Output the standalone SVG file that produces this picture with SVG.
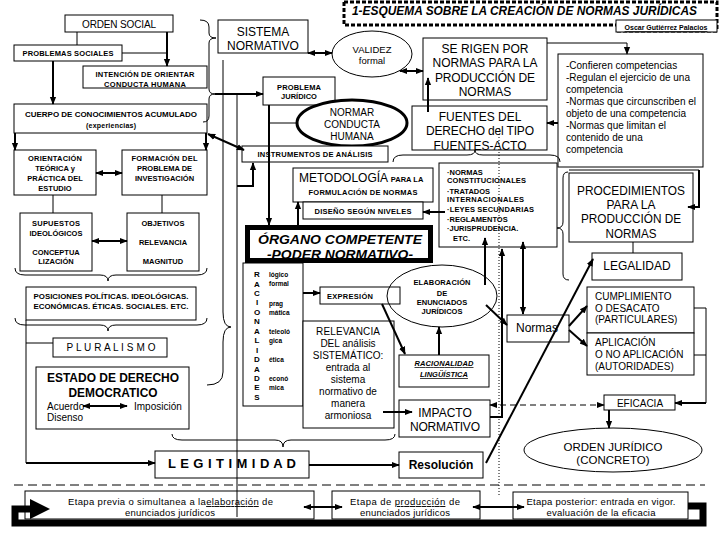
<svg xmlns="http://www.w3.org/2000/svg" width="720" height="540" viewBox="0 0 720 540">
<defs>
<style>
text{font-family:"Liberation Sans",Arial,sans-serif;fill:#000}
.b{font-weight:bold}
.i{font-style:italic}
.m{text-anchor:middle}
.bx{fill:#fff;stroke:#000;stroke-width:1}
.ln{fill:none;stroke:#000;stroke-width:1}
.w2{stroke-width:2}
.ar{marker-end:url(#ah)}
.da{marker-start:url(#ah);marker-end:url(#ah)}
.s7{font-size:7px}.s75{font-size:7.5px}.s8{font-size:8px}.s10{font-size:10px}.s12{font-size:12px}.s13{font-size:13px}
</style>
<marker id="ah" viewBox="0 0 10 10" refX="9" refY="5" markerWidth="8" markerHeight="8" markerUnits="userSpaceOnUse" orient="auto-start-reverse"><path d="M0,1 L10,5 L0,9 Z" fill="#000"/></marker>
</defs>
<rect width="720" height="540" fill="#fff"/>

<g id="title">
<path d="M344,2 H717 V31 H616 M344,2 V25 H616" fill="none" stroke="#000" stroke-width="3" stroke-dasharray="4 2"/>
<rect x="616" y="20" width="101" height="12" fill="#fff" stroke="#000"/>
<text x="352" y="15" class="b i" font-size="12" textLength="345" lengthAdjust="spacingAndGlyphs">1-ESQUEMA SOBRE LA CREACIÓN DE NORMAS JURÍDICAS</text>
<text x="666" y="30" class="m b" font-size="7" text-decoration="underline">Oscar Gutiérrez Palacios</text>
</g>

<g id="orden-social"><rect class="bx" x="65" y="15" width="108" height="17"/><text class="m s10" x="119" y="27.5" textLength="74">ORDEN SOCIAL</text></g>
<g id="problemas-sociales"><rect class="bx" x="14" y="45" width="108" height="16"/><text class="m b s75" x="68" y="56" textLength="91">PROBLEMAS SOCIALES</text></g>
<g id="intencion"><rect class="bx" x="83" y="66" width="124" height="22"/><text class="m b s75" x="145" y="77" textLength="99">INTENCIÓN DE ORIENTAR</text><text class="m b s75" x="145" y="86.5" textLength="82">CONDUCTA HUMANA</text></g>
<g id="cuerpo"><rect class="bx" x="14" y="104" width="193" height="29"/><text class="m b s8" x="111" y="117" textLength="172" lengthAdjust="spacingAndGlyphs">CUERPO DE CONOCIMIENTOS ACUMULADO</text><text class="m b s7" x="111" y="128" textLength="50">(experiencias)</text></g>
<g id="orientacion"><rect class="bx" x="14" y="150" width="82" height="45"/>
<text class="m b s75" x="55" y="161" textLength="54">ORIENTACIÓN</text><text class="m b s75" x="55" y="171">TEÓRICA y</text><text class="m b s75" x="55" y="181">PRÁCTICA DEL</text><text class="m b s75" x="55" y="191">ESTUDIO</text></g>
<g id="formacion"><rect class="bx" x="122" y="150" width="85" height="45"/>
<text class="m b s75" x="164.5" y="161" textLength="66">FORMACIÓN DEL</text><text class="m b s75" x="164.5" y="171">PROBLEMA DE</text><text class="m b s75" x="164.5" y="181">INVESTIGACIÓN</text></g>
<g id="supuestos"><rect class="bx" x="20" y="213" width="72" height="58"/>
<text class="m b s75" x="56" y="226" textLength="48">SUPUESTOS</text><text class="m b s75" x="56" y="236">IDEOLÓGICOS</text><text class="m b s75" x="56" y="255">CONCEPTUA</text><text class="m b s75" x="56" y="264">LIZACIÓN</text></g>
<g id="objetivos"><rect class="bx" x="127" y="213" width="72" height="58"/>
<text class="m b s75" x="163" y="226">OBJETIVOS</text><text class="m b s75" x="163" y="245">RELEVANCIA</text><text class="m b s75" x="163" y="264">MAGNITUD</text></g>
<g id="posiciones"><rect class="bx" x="26" y="287" width="170" height="33"/>
<text class="m b s75" x="111" y="299" textLength="155" lengthAdjust="spacingAndGlyphs">POSICIONES POLÍTICAS. IDEOLÓGICAS.</text>
<text class="m b s75" x="111" y="309" textLength="155" lengthAdjust="spacingAndGlyphs">ECONÓMICAS. ÉTICAS. SOCIALES. ETC.</text></g>
<g id="pluralismo"><rect class="bx" x="53" y="338" width="114" height="19"/><text class="m s10" x="111" y="351" textLength="89">P L U R A L I S M O</text></g>
<g id="estado"><rect class="bx" x="36" y="367" width="153" height="62"/>
<text class="m b s13" x="113" y="382" textLength="132" lengthAdjust="spacingAndGlyphs">ESTADO DE DERECHO</text>
<text class="m b s13" x="113" y="397" textLength="89" lengthAdjust="spacingAndGlyphs">DEMOCRATICO</text>
<text class="s10" x="47" y="410">Acuerdo</text><text class="s10" x="134" y="410">Imposición</text><text class="s10" x="47" y="421">Disenso</text></g>
<g id="legitimidad"><rect class="bx" x="155" y="451" width="154" height="27"/><text class="m b s13" x="232" y="468" textLength="128">L E G I T I M I D A D</text></g>
<g id="etapa-previa"><rect class="bx" x="25" y="491" width="289" height="28"/>
<text font-size="9.5" x="68" y="505" textLength="205">Etapa previa o simultanea a la<tspan text-decoration="underline">elaboración</tspan> de</text>
<text class="m" font-size="9.5" x="170" y="516" textLength="90">enunciados jurídicos</text></g>
<g id="etapa-produccion"><rect class="bx" x="332" y="491" width="148" height="28"/>
<text class="m" font-size="9.5" x="405" y="505" textLength="110">Etapa de <tspan text-decoration="underline">producción</tspan> de</text>
<text class="m" font-size="9.5" x="405" y="516" textLength="90">enunciados jurídicos</text></g>
<g id="etapa-posterior"><rect class="bx" x="513" y="492" width="175" height="27"/>
<text class="m" font-size="9.5" x="601" y="505" textLength="149">Etapa posterior: entrada en vigor.</text>
<text class="m" font-size="9.5" x="601" y="516" textLength="109">evaluación de la eficacia</text></g>

<g id="sistema"><rect class="bx" x="218" y="20" width="90" height="33"/><text class="m s12" x="263" y="36">SISTEMA</text><text class="m s12" x="263" y="50">NORMATIVO</text></g>
<g id="validez"><ellipse class="bx" cx="372" cy="54" rx="40" ry="23"/><text class="m" font-size="9.5" x="372" y="53">VALIDEZ</text><text class="m" font-size="9.5" x="372" y="64">formal</text></g>
<g id="se-rigen"><rect class="bx" x="423" y="38" width="124" height="62"/>
<text class="m s12" x="485" y="53" textLength="87">SE RIGEN POR</text><text class="m s12" x="485" y="67" textLength="105">NORMAS PARA LA</text><text class="m s12" x="485" y="82" textLength="100">PRODUCCIÓN DE</text><text class="m s12" x="485" y="96">NORMAS</text></g>
<g id="competencias"><rect class="bx" x="558" y="54" width="145" height="113"/>
<text class="s10" x="566" y="68.5">-Confieren competencias</text>
<text class="s10" x="566" y="81">-Regulan el ejercicio de una</text>
<text class="s10" x="566" y="93">competencia</text>
<text class="s10" x="566" y="104.5">-Normas que circunscriben el</text>
<text class="s10" x="566" y="116.5">objeto de una competencia</text>
<text class="s10" x="566" y="128.5">-Normas que limitan el</text>
<text class="s10" x="566" y="141">contenido de una</text>
<text class="s10" x="566" y="152.5">competencia</text></g>
<g id="fuentes"><rect class="bx" x="412" y="106" width="135" height="44"/>
<text class="m s12" x="480" y="121">FUENTES DEL</text><text class="m s12" x="480" y="135" textLength="108">DERECHO del TIPO</text><text class="m s12" x="480" y="150">FUENTES-ACTO</text></g>
<g id="problema-juridico"><rect class="bx" x="263" y="77" width="72" height="28"/><text class="m b s75" x="299" y="90" textLength="44">PROBLEMA</text><text class="m b s75" x="299" y="99">JURÍDICO</text></g>
<g id="normar"><ellipse cx="352" cy="123" rx="55" ry="23" fill="#fff" stroke="#000" stroke-width="3"/>
<text class="m s10" x="352" y="116">NORMAR</text><text class="m s10" x="352" y="128">CONDUCTA</text><text class="m s10" x="352" y="140">HUMANA</text></g>
<g id="instrumentos"><rect class="bx" x="242" y="146" width="146" height="16"/><text class="m b s75" x="315" y="157" textLength="115">INSTRUMENTOS DE ANÁLISIS</text></g>
<g id="metodologia"><rect class="bx" x="293" y="168" width="140" height="34"/>
<text class="s12" x="299" y="182">METODOLOGÍA <tspan class="b" font-size="7.5">PARA LA</tspan></text>
<text class="m b s75" x="363" y="195" textLength="109">FORMULACIÓN DE NORMAS</text></g>
<g id="diseno"><rect class="bx" x="303" y="202" width="120" height="17"/><text class="m b s75" x="363" y="214" textLength="97">DISEÑO SEGÚN NIVELES</text></g>
<g id="normas-list"><rect class="bx" x="439" y="163" width="118" height="84"/>
<text class="b s75" x="447" y="175">·NORMAS</text>
<text class="b s75" x="447" y="183" textLength="79">CONSTITUCIONALES</text>
<text class="b s75" x="447" y="194">·TRATADOS</text>
<text class="b s75" x="447" y="202" textLength="77">INTERNACIONALES</text>
<text class="b s75" x="447" y="212" textLength="87">·LEYES SECUNDARIAS</text>
<text class="b s75" x="447" y="222">·REGLAMENTOS</text>
<text class="b s75" x="447" y="231">·JURISPRUDENCIA.</text>
<text class="b s75" x="453" y="241">ETC.</text></g>
<g id="organo"><rect x="247.5" y="227.5" width="183" height="33" fill="#fff" stroke="#000" stroke-width="5"/>
<text class="m b i" font-size="13.5" x="340" y="243.5" textLength="164" lengthAdjust="spacingAndGlyphs">ÓRGANO COMPETENTE</text>
<text class="m b i" font-size="13.5" x="340" y="259" textLength="146" lengthAdjust="spacingAndGlyphs">-PODER NORMATIVO-</text></g>
<g id="racionalidades"><rect class="bx" x="243" y="263" width="60" height="143"/>
<text class="m b" font-size="8"><tspan x="257" y="277">R</tspan><tspan x="257" y="286.5">A</tspan><tspan x="257" y="296">C</tspan><tspan x="257" y="305.4">I</tspan><tspan x="257" y="314.8">O</tspan><tspan x="257" y="324.3">N</tspan><tspan x="257" y="333.7">A</tspan><tspan x="257" y="343.2">L</tspan><tspan x="257" y="352.6">I</tspan><tspan x="257" y="362">D</tspan><tspan x="257" y="371.5">A</tspan><tspan x="257" y="381">D</tspan><tspan x="257" y="390.4">E</tspan><tspan x="257" y="399.8">S</tspan></text>
<text class="b" font-size="6.5"><tspan x="269" y="277">lógico</tspan><tspan x="269" y="286">formal</tspan><tspan x="269" y="306">prag</tspan><tspan x="269" y="315">mática</tspan><tspan x="269" y="334">teleoló</tspan><tspan x="269" y="343">gica</tspan><tspan x="269" y="362">ética</tspan><tspan x="269" y="381">econó</tspan><tspan x="269" y="390">mica</tspan></text></g>
<g id="expresion"><rect class="bx" x="320" y="287" width="80" height="17"/><text class="b s75" x="327" y="299" textLength="46">EXPRESIÓN</text></g>
<g id="relevancia"><rect class="bx" x="303" y="321" width="91" height="107"/>
<text class="m s10" x="348" y="335" textLength="64">RELEVANCIA</text>
<text class="m s10" x="348" y="347">DEL análisis</text>
<text class="m s10" x="348" y="359">SISTEMÁTICO:</text>
<text class="m s10" x="348" y="371">entrada al</text>
<text class="m s10" x="348" y="383">sistema</text>
<text class="m s10" x="348" y="395">normativo de</text>
<text class="m s10" x="348" y="407">manera</text>
<text class="m s10" x="348" y="419">armoniosa</text></g>
<g id="elaboracion"><ellipse cx="442" cy="296" rx="55" ry="31" fill="none" stroke="#000"/>
<text class="m b s75" x="442" y="285" textLength="57">ELABORACIÓN</text><text class="m b s75" x="442" y="296">DE</text><text class="m b s75" x="442" y="305">ENUNCIADOS</text><text class="m b s75" x="442" y="314">JURÍDICOS</text></g>
<g id="racionalidad-linguistica"><rect class="bx" x="399" y="355" width="90" height="32"/>
<text class="m b i s75" x="444" y="366" text-decoration="underline" textLength="59">RACIONALIDAD</text>
<text class="m b i s75" x="444" y="377" text-decoration="underline">LINGÜÍSTICA</text></g>
<g id="impacto"><rect class="bx" x="399" y="400" width="91" height="37"/><text class="m s12" x="445" y="417">IMPACTO</text><text class="m s12" x="445" y="431" textLength="70">NORMATIVO</text></g>
<g id="resolucion"><rect class="bx" x="399" y="452" width="84" height="26"/><text class="m b s12" x="441" y="469">Resolución</text></g>
<g id="normas"><rect class="bx" x="507" y="315" width="62" height="27"/><text class="m s12" x="537" y="332">Normas</text></g>
<g id="procedimientos"><rect class="bx" x="569" y="173" width="124" height="69"/>
<text class="m s13" x="631" y="195" textLength="108" lengthAdjust="spacingAndGlyphs">PROCEDIMIENTOS</text>
<text class="m s13" x="631" y="209" textLength="49" lengthAdjust="spacingAndGlyphs">PARA LA</text>
<text class="m s13" x="631" y="223" textLength="100" lengthAdjust="spacingAndGlyphs">PRODUCCIÓN DE</text>
<text class="m s13" x="631" y="238" textLength="51" lengthAdjust="spacingAndGlyphs">NORMAS</text></g>
<g id="legalidad"><rect class="bx" x="592" y="253" width="90" height="27"/><text class="m s12" x="637" y="270">LEGALIDAD</text></g>
<g id="cumplimiento"><rect class="bx" x="587" y="287" width="107" height="46"/>
<text class="s10" x="595" y="300">CUMPLIMIENTO</text><text class="s10" x="595" y="311.5">O DESACATO</text><text class="s10" x="595" y="323">(PARTICULARES)</text></g>
<g id="aplicacion"><rect class="bx" x="587" y="333" width="107" height="42"/>
<text class="s10" x="595" y="346">APLICACIÓN</text><text class="s10" x="595" y="357.5">O NO APLICACIÓN</text><text class="s10" x="595" y="370">(AUTORIDADES)</text></g>
<g id="eficacia"><rect class="bx" x="604" y="395" width="71" height="15"/><text class="m s10" x="640" y="407">EFICACIA</text></g>
<g id="orden-juridico"><ellipse class="bx" cx="613" cy="450" rx="89" ry="22"/>
<text class="m" font-size="11.5" x="613" y="451">ORDEN JURÍDICO</text><text class="m" font-size="11.5" x="613" y="464">(CONCRETO)</text></g>

<g id="connectors">
<path class="ln" d="M77,32 V45"/>
<path class="ln w2 ar" d="M167,32 V66"/>
<path class="ln" d="M122,53 H167"/>
<path class="ln w2 ar" d="M53,61 V104"/>
<path class="ln w2 ar" d="M15,133 V150"/>
<path class="ln w2 ar" d="M206,133 V150"/>
<path class="ln w2 da" d="M96,173 H122"/>
<path class="ln" d="M53,195 V213"/>
<path class="ln" d="M162,195 V213"/>
<path class="ln w2 da" d="M92,241 H127"/>
<path class="ln" d="M15,268 Q15,275 25,275 L100,275 Q108,275 108,281 Q108,275 116,275 L197,275 Q207,275 207,268"/>
<path class="ln" d="M15,318 Q15,325 25,325 L100,325 Q108,325 108,331 Q108,325 116,325 L197,325 Q207,325 207,318"/>
<path class="ln" d="M26,320 V463" stroke-width="1.5"/>
<path class="ln w2 ar" d="M26,463 H155"/>
<path class="ln" d="M26,343 H53"/>
<path class="ln w2 da" d="M83,406 H127"/>
<path class="ln w2 ar" d="M309,465 H399"/>
<path class="ln" d="M172,434 Q172,440 182,440 L275,440 Q283,440 283,447 Q283,440 291,440 L385,440 Q395,440 395,434"/>
<path class="ln" d="M14,485 H705" stroke-dasharray="9 5"/>
<path class="ln" d="M499,128 V495" stroke-dasharray="1 2"/>
<path class="ln w2 da" d="M304,507 H342"/>
<path class="ln w2 da" d="M473,507 H524"/>
<path d="M688,506 H703 V523 H15 V509 H32" fill="none" stroke="#000" stroke-width="7"/>
<path d="M30,499 L50,509 L30,519 Z" fill="#000"/>
<path class="ln" d="M200,20 Q209,20 209,27 V33 Q209,38 216,38 Q209,38 209,43 V89 Q209,94 215,94 Q209,94 209,99 V116 Q209,122 203,122"/>
<path class="ln w2 ar" d="M215,94 H263"/>
<path class="ln" d="M223,60 V312 Q223,327 231,327 Q223,327 223,342 V372 Q223,385 207,385"/>
<path class="ln" d="M237,94 V517" stroke-width="1.2"/>
<path class="ln w2 ar" d="M237,186 H253 V163"/>
<path class="ln w2 da" d="M208,134 L244,150"/>
<path class="ln w2 da" d="M308,53 H332"/>
<path class="ln w2 da" d="M400,71 H423"/>
<path class="ln ar" d="M547,43 H627 V54"/>
<path class="ln w2 ar" d="M558,123 H547"/>
<path class="ln w2 ar" d="M428,112 V78"/>
<path class="ln" d="M393,162 Q393,155 403,155 L467,155 Q475,155 475,150 Q475,155 483,155 L550,155 Q560,155 560,162"/>
<path class="ln w2 ar" d="M445,212 H423"/>
<path class="ln w2 ar" d="M269,105 V225"/>
<path class="ln" d="M269,123 H297"/>
<path class="ln w2 ar" d="M298,225 V202"/>
<path class="ln w2 ar" d="M303,293 H320"/>
<path class="ln w2 ar" d="M382,304 L405,354"/>
<path class="ln w2 ar" d="M439,355 V327"/>
<path class="ln w2 ar" d="M383,412 H412"/>
<path class="ln w2 ar" d="M485,285 V238"/>
<path class="ln w2 ar" d="M490,417 H502 V249"/>
<path class="ln w2 da" d="M523,314 V242"/>
<path class="ln w2 ar" d="M486,305 L507,325"/>
<path class="ln w2 ar" d="M569,326 L587,306"/>
<path class="ln w2 ar" d="M569,330 L587,346"/>
<path class="ln w2 ar" d="M486,463 L593,259"/>
<path class="ln" d="M633,242 V253"/>
<path class="ln" d="M568,172 Q563,172 563,178 V222 Q563,228 557,228 Q563,228 563,234 V274 Q563,280 569,280"/>
<path class="ln" d="M569,170 H699"/>
<path class="ln w2 ar" d="M699,170 V207 H688"/>
<path class="ln" d="M694,308 H706 V403"/>
<path class="ln" d="M694,355 H706"/>
<path class="ln w2 ar" d="M706,403 H675"/>
<path class="ln da" d="M490,405 H604" stroke-width="2.5" stroke-dasharray="6 4"/>
<path class="ln w2 ar" d="M609,410 V428"/>
</g>
</svg>
